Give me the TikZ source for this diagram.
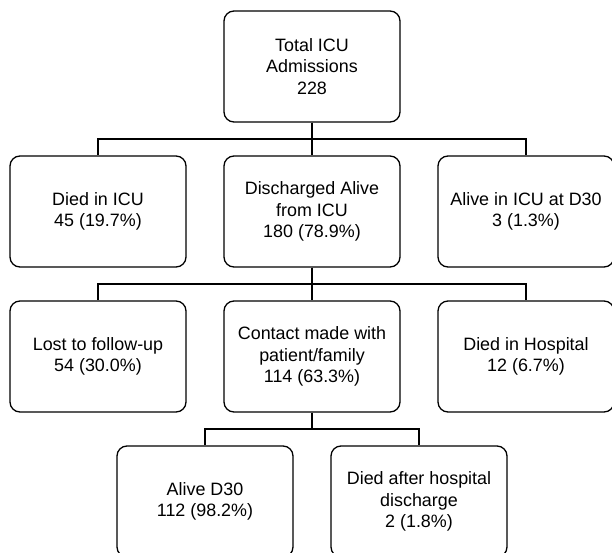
\documentclass[tikz,border=0pt]{standalone}
\usepackage{fontspec}
\setmainfont{Liberation Sans}
\usetikzlibrary{calc,positioning}
\tikzset
{
    outcome/.style = {rectangle, rounded corners=10pt, draw=black, line width=1.3pt, align=center, minimum width=176pt, minimum height=111pt, inner sep=0pt, font=\fontsize{17.9}{21.2}\selectfont},
    elbow/.style   = {to path={(\tikztostart) |- ($(\tikztostart)!0.5!(\tikztotarget)$) -| (\tikztotarget)}},
    link/.style    = {line width=1.3pt, draw=black}
}

\begin{document}
\begin{tikzpicture}[x=1pt, y=-1pt]

   \newcommand\COLDX{214}
   \newcommand\ROWDY{145}
   \newcommand\SUBDX{107}

   \useasboundingbox (0,0) rectangle (612,553);

   \node (total)   [outcome]   at (312, 66.5)                          {Total ICU\\Admissions\\228};
   \node (disch)   [outcome]   at ([shift=({0, \ROWDY})]total)          {Discharged Alive\\from ICU\\180 (78.9\%)};
   \node (diedicu) [outcome]   at ([shift=({-\COLDX, 0})]disch)         {Died in ICU\\45 (19.7\%)};
   \node (aliveicu)[outcome]   at ([shift=({ \COLDX, 0})]disch)         {Alive in ICU at D30\\3 (1.3\%)};
   \node (contact) [outcome]   at ([shift=({0, \ROWDY})]disch)          {Contact made with\\patient/family\\114 (63.3\%)};
   \node (lost)    [outcome]   at ([shift=({-\COLDX, 0})]contact)       {Lost to follow-up\\54 (30.0\%)};
   \node (diedhosp)[outcome]   at ([shift=({ \COLDX, 0})]contact)       {Died in Hospital\\12 (6.7\%)};
   \node (alive30) [outcome]   at ([shift=({-\SUBDX, \ROWDY})]contact)  {Alive D30\\112 (98.2\%)};
   \node (diedpost)[outcome]   at ([shift=({ \SUBDX, \ROWDY})]contact)  {Died after hospital\\discharge\\2 (1.8\%)};

   \path
      (total.south)   edge[elbow, link]  (diedicu.north)
      (total.south)   edge[elbow, link]  (disch.north)
      (total.south)   edge[elbow, link]  (aliveicu.north)
      (disch.south)   edge[elbow, link]  (lost.north)
      (disch.south)   edge[elbow, link]  (contact.north)
      (disch.south)   edge[elbow, link]  (diedhosp.north)
      (contact.south) edge[elbow, link]  (alive30.north)
      (contact.south) edge[elbow, link]  (diedpost.north);
\end{tikzpicture}
\end{document}
